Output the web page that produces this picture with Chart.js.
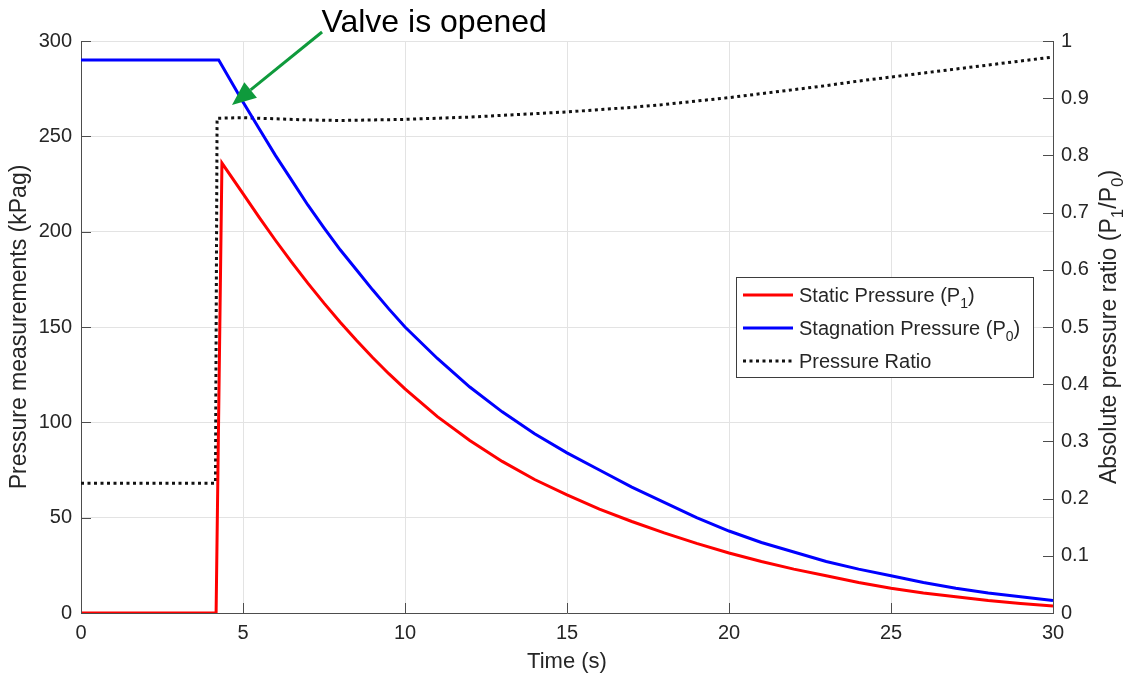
<!DOCTYPE html>
<html>
<head>
<meta charset="utf-8">
<title>Pressure measurements</title>
<script src="https://cdn.jsdelivr.net/npm/chart.js@4.4.1/dist/chart.umd.min.js"></script>
<style>
  html, body { margin: 0; padding: 0; background: #fff; }
  #wrap { width: 1137px; height: 678px; }
</style>
</head>
<body>
<div id="wrap"><canvas id="pressureChart" width="1137" height="678"></canvas></div>
<script>
// Time axis samples for each trace (s)
const timeStatic = [0, 4.17, 4.35, 5, 5.5, 6, 6.5, 7, 7.5, 8, 8.5, 9, 9.5, 10, 11, 12, 13, 14, 15, 16, 17, 18, 19, 20, 21, 22, 23, 24, 25, 26, 27, 28, 29, 30];
const timeStagnation = [0, 4.25, 5, 5.5, 6, 6.5, 7, 7.5, 8, 8.5, 9, 9.5, 10, 11, 12, 13, 14, 15, 16, 17, 18, 19, 20, 21, 22, 23, 24, 25, 26, 27, 28, 29, 30];
const timeRatio = [0, 4.15, 4.2, 5, 6, 7, 8, 9, 10, 11, 12, 13, 14, 15, 16, 17, 18, 19, 20, 21, 22, 23, 24, 25, 26, 27, 28, 29, 30];

// Static pressure P1 (kPag)
const staticPressure = [0, 0, 236, 220, 207.5, 195.5, 184, 173, 162.5, 152.5, 143, 134, 125.5, 117.5, 103, 90.5, 79.5, 70, 62, 54.5, 48, 42, 36.5, 31.5, 27, 23, 19.5, 16, 13, 10.5, 8.5, 6.5, 5, 3.7];
// Stagnation pressure P0 (kPag)
const stagnationPressure = [290, 290, 268, 254, 240, 227, 214, 202, 190.5, 180, 169.5, 159.5, 150, 133.5, 118.5, 105.5, 94, 84, 75, 66, 58, 50, 43, 37, 32, 27, 23, 19.5, 16, 13, 10.5, 8.5, 6.5];
// Absolute pressure ratio P1/P0
const pressureRatio = [0.227, 0.227, 0.865, 0.866, 0.864, 0.862, 0.861, 0.862, 0.863, 0.865, 0.867, 0.870, 0.873, 0.876, 0.880, 0.884, 0.889, 0.895, 0.901, 0.908, 0.915, 0.922, 0.930, 0.937, 0.944, 0.951, 0.958, 0.965, 0.972];

// Tick values
const timeTicks = [0, 5, 10, 15, 20, 25, 30];
const pressureTicks = [0, 50, 100, 150, 200, 250, 300];
const ratioTicks = [0, 0.1, 0.2, 0.3, 0.4, 0.5, 0.6, 0.7, 0.8, 0.9, 1];

// Annotation: text anchor and arrow (time, kPag)
const noteText = 'Valve is opened';
const noteAt = [10.9, 304.7];
const arrowFrom = [7.44, 304.7];
const arrowTo = [4.66, 266.4];

const FONT = "'Liberation Sans', Arial, Helvetica, sans-serif";
const AXIS = '#4d4d4d';
const GRID = '#e3e3e3';
const TEXT = '#262626';

function pairs(xs, ys) {
  return xs.map((x, i) => ({ x: x, y: ys[i] }));
}

// text with "_n" subscripts, drawn at baseline (x, y), left aligned
function richWidth(ctx, str, size) {
  let w = 0;
  str.split(/(_\w)/).forEach(part => {
    if (!part) return;
    if (part[0] === '_') {
      ctx.font = Math.round(size * 0.72) + 'px ' + FONT;
      w += ctx.measureText(part.slice(1)).width;
    } else {
      ctx.font = size + 'px ' + FONT;
      w += ctx.measureText(part).width;
    }
  });
  return w;
}
function richText(ctx, str, x, y, size) {
  ctx.textBaseline = 'alphabetic';
  ctx.textAlign = 'left';
  str.split(/(_\w)/).forEach(part => {
    if (!part) return;
    if (part[0] === '_') {
      ctx.font = Math.round(size * 0.72) + 'px ' + FONT;
      ctx.fillText(part.slice(1), x, y + size * 0.32);
      x += ctx.measureText(part.slice(1)).width;
    } else {
      ctx.font = size + 'px ' + FONT;
      ctx.fillText(part, x, y);
      x += ctx.measureText(part).width;
    }
  });
}

const extras = {
  id: 'extras',
  afterDraw(chart) {
    const ctx = chart.ctx;
    const area = chart.chartArea;
    const sx = chart.scales.x, sy = chart.scales.y, sr = chart.scales.y1;

    // inward tick marks
    ctx.save();
    ctx.strokeStyle = AXIS;
    ctx.lineWidth = 1;
    ctx.beginPath();
    timeTicks.forEach(v => {
      const px = Math.round(sx.getPixelForValue(v)) + 0.5;
      ctx.moveTo(px, area.bottom); ctx.lineTo(px, area.bottom - 10);
    });
    pressureTicks.forEach(v => {
      const py = Math.round(sy.getPixelForValue(v)) + 0.5;
      ctx.moveTo(area.left, py); ctx.lineTo(area.left + 10, py);
    });
    ratioTicks.forEach(v => {
      const py = Math.round(sr.getPixelForValue(v)) + 0.5;
      ctx.moveTo(area.right, py); ctx.lineTo(area.right - 10, py);
    });
    ctx.stroke();
    ctx.restore();

    // right axis title with subscripts
    ctx.save();
    ctx.fillStyle = TEXT;
    const rt = 'Absolute pressure ratio (P_1/P_0)';
    const rw = richWidth(ctx, rt, 23);
    ctx.translate(area.right + 63, (area.top + area.bottom) / 2);
    ctx.rotate(-Math.PI / 2);
    richText(ctx, rt, -rw / 2, 0, 23);
    ctx.restore();

    // legend box
    ctx.save();
    const bw = 297, bh = 100;
    const bx = area.right - 20 - bw;
    const by = (area.top + area.bottom) / 2 - bh / 2;
    ctx.fillStyle = '#fff';
    ctx.fillRect(bx, by, bw, bh);
    ctx.strokeStyle = '#3d3d3d';
    ctx.lineWidth = 1;
    ctx.strokeRect(Math.round(bx) + 0.5, Math.round(by) + 0.5, bw, bh);
    chart.data.datasets.forEach((ds, i) => {
      const ry = by + 18 + i * 33;
      ctx.strokeStyle = ds.borderColor;
      ctx.lineWidth = ds.borderWidth;
      ctx.setLineDash(ds.borderDash || []);
      ctx.beginPath();
      ctx.moveTo(bx + 7, ry); ctx.lineTo(bx + 57, ry);
      ctx.stroke();
      ctx.setLineDash([]);
      ctx.fillStyle = TEXT;
      richText(ctx, ds.label, bx + 63, ry + 7, 20);
    });
    ctx.restore();

    // annotation text and arrow
    ctx.save();
    ctx.fillStyle = '#000';
    ctx.font = '32px ' + FONT;
    ctx.textAlign = 'center';
    ctx.textBaseline = 'alphabetic';
    ctx.fillText(noteText, sx.getPixelForValue(noteAt[0]), sy.getPixelForValue(noteAt[1]));
    const x0 = sx.getPixelForValue(arrowFrom[0]), y0 = sy.getPixelForValue(arrowFrom[1]);
    const x1 = sx.getPixelForValue(arrowTo[0]), y1 = sy.getPixelForValue(arrowTo[1]);
    const ang = Math.atan2(y1 - y0, x1 - x0);
    const headLen = 24, headW = 10;
    const bxh = x1 - headLen * Math.cos(ang), byh = y1 - headLen * Math.sin(ang);
    ctx.strokeStyle = '#0f9a3c';
    ctx.fillStyle = '#0f9a3c';
    ctx.lineWidth = 3;
    ctx.beginPath();
    ctx.moveTo(x0, y0); ctx.lineTo(bxh, byh);
    ctx.stroke();
    ctx.beginPath();
    ctx.moveTo(x1, y1);
    ctx.lineTo(bxh + headW * Math.sin(ang), byh - headW * Math.cos(ang));
    ctx.lineTo(bxh - headW * Math.sin(ang), byh + headW * Math.cos(ang));
    ctx.closePath();
    ctx.fill();
    ctx.restore();
  }
};

const ctx = document.getElementById('pressureChart').getContext('2d');
new Chart(ctx, {
  type: 'line',
  data: {
    datasets: [
      {
        label: 'Static Pressure (P_1)',
        data: pairs(timeStatic, staticPressure),
        borderColor: '#ff0000',
        borderWidth: 3,
        yAxisID: 'y',
        clip: 0
      },
      {
        label: 'Stagnation Pressure (P_0)',
        data: pairs(timeStagnation, stagnationPressure),
        borderColor: '#0000ff',
        borderWidth: 3,
        yAxisID: 'y',
        clip: 0
      },
      {
        label: 'Pressure Ratio',
        data: pairs(timeRatio, pressureRatio),
        borderColor: '#111111',
        borderWidth: 3,
        borderDash: [3, 3.5],
        borderCapStyle: 'butt',
        yAxisID: 'y1',
        clip: 0
      }
    ]
  },
  options: {
    responsive: false,
    animation: false,
    events: [],
    elements: { point: { radius: 0 }, line: { tension: 0 } },
    layout: { padding: { top: 41, left: 0, right: 0, bottom: 0 } },
    plugins: {
      legend: { display: false },
      tooltip: { enabled: false }
    },
    scales: {
      x: {
        type: 'linear',
        min: 0,
        max: 30,
        afterBuildTicks: s => { s.ticks = timeTicks.map(v => ({ value: v })); },
        afterFit: s => { s.height = 65; },
        grid: { color: GRID, drawTicks: false },
        border: { color: AXIS },
        ticks: { padding: 8, color: TEXT, font: { family: FONT, size: 20 }, maxRotation: 0 },
        title: { display: true, text: 'Time (s)', color: TEXT, font: { family: FONT, size: 22 }, padding: { top: 0, bottom: 3 } }
      },
      y: {
        position: 'left',
        min: 0,
        max: 300,
        afterBuildTicks: s => { s.ticks = pressureTicks.map(v => ({ value: v })); },
        afterFit: s => { s.width = 81; },
        grid: { color: GRID, drawTicks: false },
        border: { color: AXIS },
        ticks: { padding: 9, color: TEXT, font: { family: FONT, size: 20 } },
        title: { display: true, text: 'Pressure measurements (kPag)', color: TEXT, font: { family: FONT, size: 23 }, padding: { top: 6, bottom: 0 } }
      },
      y1: {
        position: 'right',
        min: 0,
        max: 1,
        afterBuildTicks: s => { s.ticks = ratioTicks.map(v => ({ value: v })); },
        afterFit: s => { s.width = 84; },
        grid: { display: false, drawTicks: false },
        border: { display: true, color: AXIS },
        ticks: { padding: 8, color: TEXT, font: { family: FONT, size: 20 }, callback: v => String(+v.toFixed(1)) }
      }
    }
  },
  plugins: [extras]
});
</script>
</body>
</html>
